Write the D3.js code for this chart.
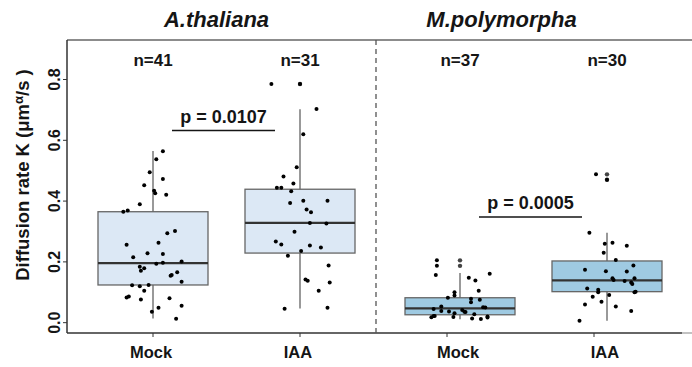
<!DOCTYPE html>
<meta charset="utf-8">
<style>
body { margin: 0; background: #fff; }
svg { font-family: "Liberation Sans", Arial, sans-serif; }
</style>
<svg width="692" height="367"></svg>
<script src="https://cdn.jsdelivr.net/npm/d3@7"></script>
<script>

// data
var species = ["A.thaliana", "M.polymorpha"];
var treatments = ["Mock", "IAA"];
var counts = [41, 31, 37, 30];
var pLabels = ["p = 0.0107", "p = 0.0005"];
var pLevels = [0.632, 0.348];
var yTicks = [0.0, 0.2, 0.4, 0.6, 0.8];

// box stats, order: A Mock, A IAA, M Mock, M IAA
var whiskerLow = [0.014, 0.047, 0.011, 0.006];
var boxQ1      = [0.124, 0.229, 0.026, 0.102];
var boxMedian  = [0.196, 0.328, 0.047, 0.139];
var boxQ3      = [0.365, 0.439, 0.082, 0.203];
var whiskerHigh= [0.565, 0.702, 0.163, 0.296];
var outliers   = [[], [0.785], [0.205, 0.187], [0.488, 0.470]];

// raw points (K) and their jitter, as fraction of box width
var athMock = [0.564, 0.538, 0.495, 0.473, 0.452, 0.434, 0.426, 0.421, 0.390, 0.365, 0.369, 0.302, 0.294, 0.263, 0.256, 0.228, 0.226, 0.215, 0.194, 0.197, 0.201, 0.184, 0.179, 0.171, 0.166, 0.157, 0.154, 0.135, 0.123, 0.120, 0.124, 0.105, 0.083, 0.086, 0.076, 0.080, 0.056, 0.049, 0.036, 0.013];
var athMockJit = [0.09, 0.03, -0.03, 0.09, -0.08, 0.01, 0.02, 0.12, -0.12, -0.27, -0.23, 0.20, 0.13, 0.05, -0.24, -0.05, 0.09, -0.18, 0.03, 0.09, 0.26, -0.12, -0.08, -0.11, 0.22, 0.17, 0.16, 0.26, -0.19, -0.12, -0.04, -0.08, -0.24, -0.22, -0.11, 0.15, 0.26, 0.05, -0.01, 0.21];

var athIAA = [0.785, 0.785, 0.703, 0.620, 0.511, 0.481, 0.458, 0.444, 0.444, 0.432, 0.394, 0.401, 0.401, 0.372, 0.363, 0.328, 0.326, 0.299, 0.267, 0.257, 0.254, 0.247, 0.236, 0.220, 0.188, 0.142, 0.138, 0.132, 0.105, 0.046, 0.049];
var athIAAJit = [-0.26, 0, 0.15, 0.03, -0.03, -0.15, -0.06, -0.21, -0.17, -0.08, -0.09, 0.03, 0.25, 0.06, 0.10, 0.09, 0.24, -0.05, -0.22, -0.17, 0.09, 0.19, 0.01, -0.11, 0.26, 0.05, 0.07, 0.27, 0.17, -0.14, 0.25];

var mpoMock = [0.205, 0.187, 0.157, 0.148, 0.139, 0.161, 0.105, 0.100, 0.089, 0.082, 0.079, 0.075, 0.067, 0.053, 0.045, 0.051, 0.050, 0.042, 0.038, 0.037, 0.036, 0.035, 0.031, 0.028, 0.022, 0.018, 0.019, 0.014, 0.012, 0.020, 0.017, 0.022];
var mpoMockJit = [-0.21, -0.21, -0.22, 0.08, 0.14, 0.27, 0.17, -0.05, -0.05, -0.11, 0.10, 0.18, 0.10, -0.17, -0.24, 0.21, 0.23, 0.02, -0.17, -0.10, 0.04, 0.05, -0.05, 0.13, -0.23, -0.26, -0.06, 0.11, 0.19, 0.25, 0.25, -0.24];

var mpoIAA = [0.488, 0.470, 0.296, 0.260, 0.263, 0.253, 0.230, 0.206, 0.174, 0.169, 0.168, 0.188, 0.146, 0.140, 0.137, 0.146, 0.132, 0.127, 0.112, 0.108, 0.100, 0.102, 0.100, 0.091, 0.085, 0.069, 0.060, 0.053, 0.038, 0.006];
var mpoIAAJit = [-0.10, 0.0, -0.16, -0.02, 0.05, 0.18, -0.03, 0.08, -0.20, -0.01, 0.18, 0.24, 0.05, 0.06, 0.16, 0.25, 0.22, 0.23, -0.18, -0.08, -0.08, 0.26, 0.25, 0.02, -0.13, -0.05, -0.20, 0.08, 0.22, -0.25];

var groupValues = [athMock, athIAA, mpoMock, mpoIAA];
var groupJitter = [athMockJit, athIAAJit, mpoMockJit, mpoIAAJit];
var boxFill = ["#dce8f5", "#dce8f5", "#9fcae2", "#9fcae2"];

var svg = d3.select("svg");
var plotTop = 40, plotBottom = 333, plotLeft = 67, plotRight = 688;
var boxW = 110;
var ink = "#151515";

var y = d3.scaleLinear().domain([-0.034, 0.93]).range([plotBottom, plotTop]);

// panel start and inner placement
var panelX = d3.scaleOrdinal().domain(species).range([153, 460]);
var tickShift = d3.scaleOrdinal().domain(species).range([0, -13]);
var xInner = d3.scalePoint().domain(treatments).range([0, 147]);

var groups = [];
species.forEach(function(s) {
  treatments.forEach(function(t) {
    groups.push({species: s, treatment: t});
  });
});
groups.forEach(function(g, i) {
  g.cx = panelX(g.species) + xInner(g.treatment);
  g.i = i;
});

// frame
svg.append("line").attr("x1", plotLeft).attr("x2", 692).attr("y1", plotTop).attr("y2", plotTop)
  .attr("stroke", "#666").attr("stroke-width", 1.5);
svg.append("line").attr("x1", plotLeft).attr("x2", plotLeft).attr("y1", plotTop).attr("y2", plotBottom)
  .attr("stroke", "#333").attr("stroke-width", 1.5);
svg.append("line").attr("x1", plotLeft).attr("x2", plotRight - 6).attr("y1", plotBottom).attr("y2", plotBottom)
  .attr("stroke", "#333").attr("stroke-width", 1.5);
svg.append("line").attr("x1", plotRight - 6).attr("x2", 692).attr("y1", plotBottom).attr("y2", plotBottom)
  .attr("stroke", "#999").attr("stroke-width", 1.2);

// panel divider
svg.append("line").attr("x1", 376).attr("x2", 376).attr("y1", plotTop).attr("y2", plotBottom)
  .attr("stroke", "#555").attr("stroke-width", 1.3).attr("stroke-dasharray", "5,4");

// y axis
var yAxis = svg.append("g");
yTicks.forEach(function(v) {
  yAxis.append("line").attr("x1", plotLeft - 4).attr("x2", plotLeft).attr("y1", y(v)).attr("y2", y(v))
    .attr("stroke", "#333");
  yAxis.append("text")
    .attr("transform", "translate(" + (plotLeft - 7) + "," + y(v) + ") rotate(-90)")
    .attr("text-anchor", "middle")
    .attr("font-size", 16).attr("font-weight", "bold").attr("fill", ink)
    .text(d3.format(".1f")(v));
});

var yTitle = svg.append("text")
  .attr("transform", "translate(29," + 175 + ") rotate(-90)")
  .attr("text-anchor", "middle")
  .attr("font-size", 18.5).attr("font-weight", "bold").attr("fill", ink);
yTitle.append("tspan").text("Diffusion rate K (\u03bcm");
yTitle.append("tspan").attr("dy", -6).attr("font-size", 13).text("\u03b1");
yTitle.append("tspan").attr("dy", 6).text("/s )");

// x ticks and labels
groups.forEach(function(g) {
  var tx = g.cx + tickShift(g.species);
  svg.append("line").attr("x1", tx).attr("x2", tx).attr("y1", plotBottom).attr("y2", plotBottom + 4)
    .attr("stroke", "#333");
  svg.append("text").attr("x", g.cx - 2).attr("y", 358)
    .attr("text-anchor", "middle")
    .attr("font-size", 16.5).attr("font-weight", "bold").attr("fill", ink)
    .text(g.treatment);
  svg.append("text").attr("x", g.cx).attr("y", 66)
    .attr("text-anchor", "middle")
    .attr("font-size", 17).attr("font-weight", "bold").attr("fill", ink)
    .text("n=" + counts[g.i]);
});

// species titles
var titleShift = [-10, -32];
species.forEach(function(s, i) {
  var mid = panelX(s) + 147 / 2;
  svg.append("text").attr("x", mid + titleShift[i]).attr("y", 27)
    .attr("text-anchor", "middle")
    .attr("font-size", 22).attr("font-weight", "bold").attr("font-style", "italic")
    .attr("fill", ink)
    .text(s);
});

// boxes
var box = svg.selectAll("g.box").data(groups).enter().append("g").attr("class", "box");

box.append("line")
  .attr("x1", function(d) { return d.cx; }).attr("x2", function(d) { return d.cx; })
  .attr("y1", function(d) { return y(whiskerLow[d.i]); })
  .attr("y2", function(d) { return y(whiskerHigh[d.i]); })
  .attr("stroke", "#777").attr("stroke-width", 1.5);

box.append("rect")
  .attr("x", function(d) { return d.cx - boxW / 2; })
  .attr("width", boxW)
  .attr("y", function(d) { return y(boxQ3[d.i]); })
  .attr("height", function(d) { return y(boxQ1[d.i]) - y(boxQ3[d.i]); })
  .attr("fill", function(d) { return boxFill[d.i]; })
  .attr("stroke", "#666").attr("stroke-width", 1.3);

box.append("line")
  .attr("x1", function(d) { return d.cx - boxW / 2; })
  .attr("x2", function(d) { return d.cx + boxW / 2; })
  .attr("y1", function(d) { return y(boxMedian[d.i]); })
  .attr("y2", function(d) { return y(boxMedian[d.i]); })
  .attr("stroke", "#333").attr("stroke-width", 2.2);

box.selectAll("circle.out")
  .data(function(d) { return outliers[d.i].map(function(v) { return {cx: d.cx, v: v}; }); })
  .enter().append("circle").attr("class", "out")
  .attr("cx", function(d) { return d.cx; })
  .attr("cy", function(d) { return y(d.v); })
  .attr("r", 2.2).attr("fill", "#444");

// jittered raw points
box.selectAll("circle.pt")
  .data(function(d) {
    return groupValues[d.i].map(function(v, k) {
      return {x: d.cx + groupJitter[d.i][k] * boxW, v: v};
    });
  })
  .enter().append("circle").attr("class", "pt")
  .attr("cx", function(d) { return d.x; })
  .attr("cy", function(d) { return y(d.v); })
  .attr("r", 2).attr("fill", "#000");

// p-value brackets
species.forEach(function(s, i) {
  var mid = panelX(s) + 147 / 2 - 3;
  svg.append("line").attr("x1", mid - 51.5).attr("x2", mid + 51.5)
    .attr("y1", y(pLevels[i])).attr("y2", y(pLevels[i]))
    .attr("stroke", ink).attr("stroke-width", 1.5);
  svg.append("text").attr("x", mid).attr("y", y(pLevels[i]) - 8)
    .attr("text-anchor", "middle")
    .attr("font-size", 18).attr("font-weight", "bold").attr("fill", ink)
    .text(pLabels[i]);
});

</script>
